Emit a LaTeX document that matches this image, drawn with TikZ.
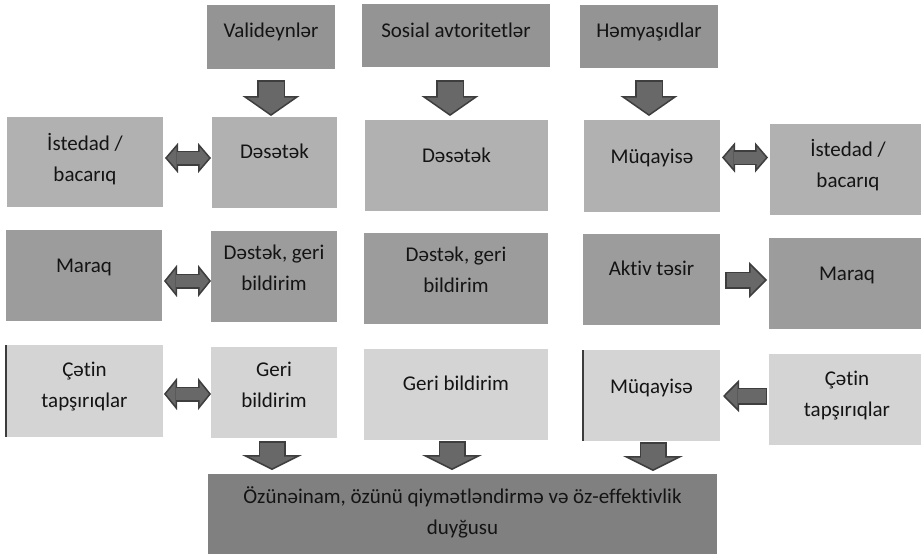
\documentclass[tikz,border=0pt]{standalone}
\usepackage{fontspec}
\setmainfont[Ligatures=NoCommon]{Carlito}
\usetikzlibrary{arrows.meta,calc}
\definecolor{ctop}{RGB}{148,148,148}
\definecolor{crowa}{RGB}{177,177,177}
\definecolor{crowb}{RGB}{156,156,156}
\definecolor{crowc}{RGB}{212,212,212}
\definecolor{cbot}{RGB}{128,128,128}
\definecolor{afill}{RGB}{104,104,104}
\definecolor{aline}{RGB}{62,62,62}
\definecolor{tcol}{RGB}{20,20,20}
\definecolor{edgecol}{RGB}{60,60,60}
\tikzset{
  box/.style={inner sep=0pt, outer sep=0pt, draw=none},
  txt/.style={inner sep=0pt, align=center, text=tcol, font=\fontsize{21}{31}\selectfont},
  leftedge/.style={draw=edgecol, line width=1.5pt},
}
% single block arrow: from, to, stem width, head width, head length
\newcommand\sarrow[5]{%
  \draw[aline, line width=#3pt, -{Triangle[width=#4pt,length=#5pt,fill=afill,line width=1.5pt]}] #1 -- #2;
  \draw[afill, line width=#3pt-3pt, shorten <=1.5pt, shorten >=#5pt-1.5pt] #1 -- #2;
}
% double block arrow
\newcommand\darrow[5]{%
  \draw[aline, line width=#3pt, {Triangle[width=#4pt,length=#5pt,fill=afill,line width=1.5pt]}-{Triangle[width=#4pt,length=#5pt,fill=afill,line width=1.5pt]}] #1 -- #2;
  \draw[afill, line width=#3pt-3pt, shorten <=#5pt-1.5pt, shorten >=#5pt-1.5pt] #1 -- #2;
}
\begin{document}
\begin{tikzpicture}[x=1pt,y=-1pt]
\useasboundingbox[fill=white] (0,0) rectangle (921,557);
% top row
\node[box, fill=ctop, minimum width=128pt, minimum height=64pt] (val) at (271,37) {};
\node[txt] (valt) at ($(val.center)+(0,-5)$) {Valideynlər};
\node[box, fill=ctop, minimum width=188pt, minimum height=63pt] (sos) at (456,35.5) {};
\node[txt] (sost) at ($(sos.center)+(0,-5)$) {Sosial avtoritetlər};
\node[box, fill=ctop, minimum width=138pt, minimum height=63pt] (hem) at (649,36.5) {};
\node[txt] (hemt) at ($(hem.center)+(0,-5)$) {Həmyaşıdlar};
% row 1
\node[box, fill=crowa, minimum width=156pt, minimum height=90pt] (ist1) at (85,162) {};
\node[txt] (ist1t) at ($(ist1.center)+(0,-3)$) {İstedad /\\bacarıq};
\node[box, fill=crowa, minimum width=125pt, minimum height=91pt] (d1) at (274.5,162.5) {};
\node[txt] (d1t) at ($(d1.center)+(0,-11)$) {Dəsətək};
\node[box, fill=crowa, minimum width=183pt, minimum height=91pt] (d2) at (456.5,165.5) {};
\node[txt] (d2t) at ($(d2.center)+(0,-10)$) {Dəsətək};
\node[box, fill=crowa, minimum width=136pt, minimum height=92pt] (mq1) at (652,166) {};
\node[txt] (mq1t) at ($(mq1.center)+(0,-8)$) {Müqayisə};
\node[box, fill=crowa, minimum width=156pt, minimum height=91pt] (ist2) at (848,169.5) {};
\node[txt] (ist2t) at ($(ist2.center)+(0,-4)$) {İstedad /\\bacarıq};
% row 2
\node[box, fill=crowb, minimum width=156pt, minimum height=91pt] (mar1) at (84,275.5) {};
\node[txt] (mar1t) at ($(mar1.center)+(0,-8)$) {Maraq};
\node[box, fill=crowb, minimum width=126pt, minimum height=91pt] (dg1) at (274,276.5) {};
\node[txt] (dg1t) at ($(dg1.center)+(0,-9)$) {Dəstək, geri\\bildirim};
\node[box, fill=crowb, minimum width=184pt, minimum height=91pt] (dg2) at (456,278.5) {};
\node[txt] (dg2t) at ($(dg2.center)+(0,-9)$) {Dəstək, geri\\bildirim};
\node[box, fill=crowb, minimum width=137pt, minimum height=91pt] (akt) at (651.5,279.5) {};
\node[txt] (aktt) at ($(akt.center)+(0,-11)$) {Aktiv təsir};
\node[box, fill=crowb, minimum width=156pt, minimum height=91pt] (mar2) at (847,283.5) {};
\node[txt] (mar2t) at ($(mar2.center)+(0,-8)$) {Maraq};
% row 3
\node[box, fill=crowc, minimum width=157pt, minimum height=92pt] (cet1) at (84.5,391) {};
\node[txt] (cet1t) at ($(cet1.center)+(0,-4)$) {Çətin\\tapşırıqlar};
\node[box, fill=crowc, minimum width=126pt, minimum height=91pt] (gb1) at (274,392.5) {};
\node[txt] (gb1t) at ($(gb1.center)+(0,-8)$) {Geri\\bildirim};
\node[box, fill=crowc, minimum width=184pt, minimum height=91pt] (gb2) at (456,394.5) {};
\node[txt] (gb2t) at ($(gb2.center)+(0,-11)$) {Geri bildirim};
\node[box, fill=crowc, minimum width=137pt, minimum height=91pt] (mq2) at (651.5,395.5) {};
\node[txt] (mq2t) at ($(mq2.center)+(0,-8)$) {Müqayisə};
\node[box, fill=crowc, minimum width=156pt, minimum height=91pt] (cet2) at (847,399.5) {};
\node[txt] (cet2t) at ($(cet2.center)+(0,-4)$) {Çətin\\tapşırıqlar};
\draw[leftedge] (cet1.north west) -- (cet1.south west);
\draw[leftedge] (mq2.north west) -- (mq2.south west);
% bottom
\node[box, fill=cbot, minimum width=509pt, minimum height=80pt] (oz) at (462.5,514) {};
\node[txt] (ozt) at ($(oz.center)+(0,-2)$) {Özünəinam, özünü qiymətləndirmə və öz-effektivlik\\duyğusu};
% down arrows
\sarrow{($(val.south)+(0,11)$)}{($(val.south |- d1.north)+(0,-1)$)}{28}{57}{20}
\sarrow{($(sos.south)+(-6,13)$)}{($(sos.south |- d2.north)+(-6,-4)$)}{28}{57}{20}
\sarrow{($(hem.south)+(0,12)$)}{($(hem.south |- mq1.north)+(0,-4)$)}{28}{57}{20}
\sarrow{($(gb1.south)+(-2,3)$)}{($(gb1.south |- oz.north)+(-2,-4)$)}{27}{60}{15}
\sarrow{($(gb2.south)+(-4,1)$)}{($(gb2.south |- oz.north)+(-4,-4)$)}{27}{60}{15}
\sarrow{($(mq2.south)+(1.5,1)$)}{($(mq2.south |- oz.north)+(1.5,-3)$)}{27}{60}{15}
% horizontal arrows
\darrow{($(ist1.east)+(2,-4)$)}{($(d1.west)+(-1,-4.5)$)}{15}{30}{13}
\darrow{($(mar1.east)+(2,5.5)$)}{($(dg1.west)+(0,4.5)$)}{15}{32}{13}
\darrow{($(cet1.east)+(1,3)$)}{($(gb1.west)+(0,1.5)$)}{15}{32}{13}
\darrow{($(mq1.east)+(2,-8.5)$)}{($(ist2.west)+(-2,-12)$)}{15}{30}{13}
\sarrow{($(akt.east)+(5,0.5)$)}{($(mar2.west)+(-2,-3.5)$)}{17}{36}{18}
\sarrow{($(cet2.west)+(-2,-3.5)$)}{($(mq2.east)+(3,0.5)$)}{17}{32}{16}
\end{tikzpicture}
\end{document}
